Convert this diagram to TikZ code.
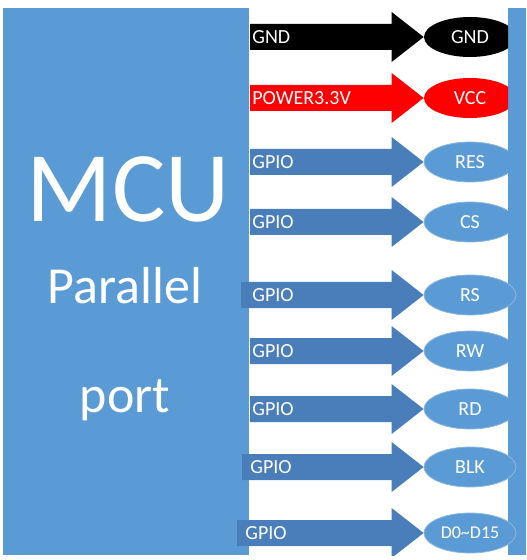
\documentclass[tikz,border=0pt]{standalone}
\usepackage{fontspec}
\setmainfont{Carlito}
\usetikzlibrary{calc,shapes.geometric}
\definecolor{panelblue}{HTML}{5B9BD5}
\definecolor{arrowblue}{HTML}{4A7EBB}
\definecolor{ovalblue}{HTML}{5B9BD5}
\definecolor{ovaledge}{HTML}{8DB6E0}
\tikzset{
  pinoval/.style={ellipse, minimum width=46pt, minimum height=20pt, inner sep=0pt, text=white, font=\fontsize{10}{12}\selectfont},
  siglabel/.style={anchor=west, inner sep=0pt, text=white, font=\fontsize{10}{12}\selectfont},
  bigtext/.style={text=white, anchor=base, inner sep=0pt}
}
% #1 y, #2 shaft start, #3 label x, #4 label, #5 pin, #6 arrow colour, #7 oval options, #8 name
\newcommand{\pinrow}[8]{%
  \node[pinoval, #7] (#8) at (470,#1) {#5};
  \fill[#6] (#2,#1-13) -| ($(#8.west)+(-32,-25)$) -- (#8.west) -- ($(#8.west)+(-32,25)$) |- (#2,#1+13) -- cycle;
  \node[siglabel] (#8lab) at (#3,#1) {#4};
}

\begin{document}
\begin{tikzpicture}[x=0.5pt,y=-0.5pt]
	\useasboundingbox (0,0) rectangle (526,560);
	
	%%%%% panels %%%%%
	\fill[panelblue] (3,8) rectangle (249,555);
	\fill[panelblue] (508,8) rectangle (526,555);
	
	\node[bigtext, font=\fontsize{50}{60}\selectfont] (mcu) at (128,222) {MCU};
	\node[bigtext, font=\fontsize{26}{30}\selectfont] (par) at (125,303) {Parallel};
	\node[bigtext, font=\fontsize{26}{30}\selectfont] (port) at (125,412) {port};
	
	%%%%% pins behind the right panel %%%%%
	\begin{scope}
		\clip (0,0) rectangle (508,555);
		\pinrow{37}{250}{252}{GND}{GND}{black}{fill=black}{gnd}
		\pinrow{98}{250}{252}{POWER3.3V}{VCC}{red}{fill=red}{vcc}
		\pinrow{162}{250}{252}{GPIO}{RES}{arrowblue}{fill=ovalblue, draw=ovaledge}{res}
		\pinrow{222}{250}{252}{GPIO}{CS}{arrowblue}{fill=ovalblue, draw=ovaledge}{cs}
		\pinrow{351}{250}{252}{GPIO}{RW}{arrowblue}{fill=ovalblue, draw=ovaledge}{rw}
		\pinrow{409}{250}{252}{GPIO}{RD}{arrowblue}{fill=ovalblue, draw=ovaledge}{rd}
	\end{scope}
	
	%%%%% pins over the right panel %%%%%
	\begin{scope}
		\clip (0,0) rectangle (526,555);
		\pinrow{295}{241}{252}{GPIO}{RS}{arrowblue}{fill=ovalblue, draw=ovaledge}{rs}
		\pinrow{467}{242}{250}{GPIO}{BLK}{arrowblue}{fill=ovalblue, draw=ovaledge}{blk}
		\pinrow{533}{237}{245}{GPIO}{{\fontsize{9}{10}\selectfont D0\textasciitilde D15}}{arrowblue}{fill=ovalblue, draw=ovaledge}{data}
	\end{scope}
\end{tikzpicture}
\end{document}
